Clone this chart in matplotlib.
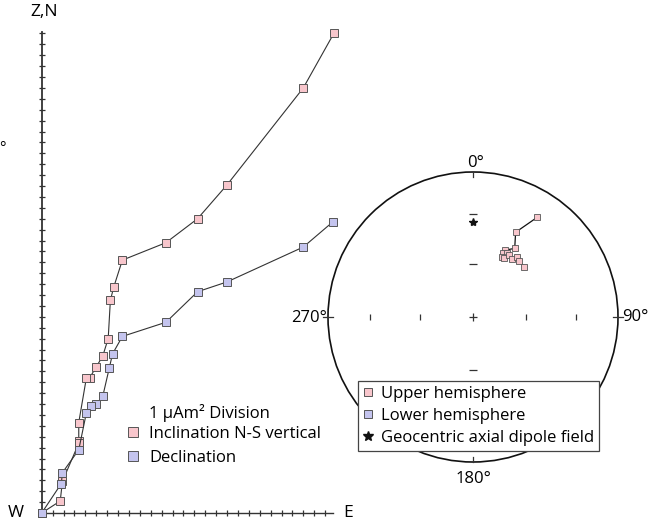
import numpy as np
import matplotlib.pyplot as plt
from matplotlib.lines import Line2D

plt.rcParams['font.family'] = ['Open Sans', 'DejaVu Sans']

# Orthogonal vector plot, in units of 1 uAm^2 (East, North/Up)
incl_east = [26.8, 24.0, 17.0, 14.3, 11.4, 7.4, 6.6, 6.3, 6.1, 5.6, 5.0, 4.4, 4.1,
             3.4, 3.4, 3.4, 1.9, 1.7, 0.0]
incl_up = [44.0, 39.0, 30.1, 27.0, 24.8, 23.2, 20.7, 19.5, 16.0, 14.4, 13.4, 12.4, 12.4,
           8.3, 6.6, 6.4, 2.9, 1.1, 0.0]
decl_east = [26.7, 24.0, 17.0, 14.3, 11.4, 7.4, 6.5, 6.2, 5.6, 5.0, 4.5, 4.1,
             3.4, 1.9, 1.8, 0.0]
decl_north = [26.7, 24.4, 21.2, 20.3, 17.5, 16.2, 14.6, 13.3, 10.7, 10.0, 9.8, 9.2,
              5.8, 3.7, 2.7, 0.0]
east_ticks = np.arange(1, 27)
north_ticks = np.arange(1, 45)

# Directions for the equal-area net (degrees; negative inclination = upper hemisphere)
dec = [32.8, 26.7, 31.3, 25.6, 25.3, 27.8, 25.4, 27.8, 30.1, 33.6, 35.9, 39.6, 45.7]
inc = [-19.3, -34.9, -43.9, -47.6, -49.5, -48.5, -51.9, -51.8, -49.0, -50.1, -47.4,
       -48.5, -49.1]
gad_dec, gad_inc = 0.0, 34.8
net_ticks_inc = [60, 30]

PINK = '#f8c6cc'
BLUE = '#c4c4ee'
EDGE = '#555555'

W, H = 655, 528
fig = plt.figure(figsize=(W / 100, H / 100), dpi=100)

# left panel: pixel origin (41.7, 513), 10.9 px per unit
unit = 10.9
ox, oy = 41.7, 513
ax = fig.add_axes([0, 0, 1, 1])
ax.set_xlim(-ox / unit, (W - ox) / unit)
ax.set_ylim(-(H - oy) / unit, oy / unit)
ax.axis('off')

ax.plot([0, 26.7], [0, 0], color='#333333', lw=1.0, zorder=1)
ax.plot([0, 0], [0, 44.1], color='#333333', lw=1.3, zorder=1)
ax.plot(east_ticks, np.zeros(len(east_ticks)), ls='none', marker='|', ms=4.5,
        mew=0.9, color='#333333')
ax.plot(np.zeros(len(north_ticks)), north_ticks, ls='none', marker='_', ms=5,
        mew=0.9, color='#333333')

ax.plot(incl_east, incl_up, color='#333333', lw=0.8, marker='s', ms=5.5,
        mfc=PINK, mec=EDGE, mew=0.7, zorder=3)
ax.plot(decl_east, decl_north, color='#333333', lw=0.8, marker='s', ms=5.5,
        mfc=BLUE, mec=EDGE, mew=0.7, zorder=3)

ax.text(0.2, 45.2, 'Z,N', fontsize=12.5, ha='center', va='bottom')
ax.text(-2.4, 0, 'W', fontsize=12.5, ha='center', va='center')
ax.text(27.7, 0, 'E', fontsize=12.5, ha='left', va='center')
ax.text(-3.6, 33.4, '°', fontsize=11, ha='center', va='center')

ax.text(9.8, 9.2, '1 µAm² Division', fontsize=12, ha='left', va='center')
h_incl = Line2D([], [], ls='none', marker='s', ms=6.5, mfc=PINK, mec=EDGE, mew=0.7)
h_decl = Line2D([], [], ls='none', marker='s', ms=6.5, mfc=BLUE, mec=EDGE, mew=0.7)
ax.legend([h_incl, h_decl], ['Inclination N-S vertical', 'Declination'],
          loc='upper left', bbox_to_anchor=(126 / W, 1 - 425.5 / H),
          bbox_transform=fig.transFigure, frameon=False, fontsize=12,
          handlelength=0.8, handletextpad=0.6, labelspacing=0.52,
          borderaxespad=0, borderpad=0)

# right panel: equal-area net, centre (473, 317) px, radius 145 px
cx, cy, R = 473, 317, 145
half = 160
net = fig.add_axes([(cx - half) / W, (H - cy - half) / H, 2 * half / W, 2 * half / H])
lim = half / R
net.set_xlim(-lim, lim)
net.set_ylim(-lim, lim)
net.axis('off')
net.patch.set_alpha(0)


def project(d, i):
    r = np.sqrt(2) * np.sin(np.radians(90 - np.abs(i)) / 2)
    return r * np.sin(np.radians(d)), r * np.cos(np.radians(d))


net.add_patch(plt.Circle((0, 0), 1, fill=False, color='#111111', lw=1.2))
t = 5 / R
net.plot([0, 0], [1, 1 - t], color='#333333', lw=0.9)
net.plot([0, 0], [-1, -1 + t], color='#333333', lw=0.9)
net.plot([1 - t, 1 + t], [0, 0], color='#333333', lw=0.9)
net.plot([-1 - t, -1 + t], [0, 0], color='#333333', lw=0.9)
net.plot([0], [0], marker='+', ms=6, mew=0.9, color='#333333')
for ti in net_ticks_inc:
    rr = project(0, ti)[1]
    net.plot([rr, -rr], [0, 0], ls='none', marker='|', ms=4.5, mew=0.9, color='#333333')
    net.plot([0, 0], [rr, -rr], ls='none', marker='_', ms=6, mew=0.9, color='#333333')

px, py = project(np.array(dec), np.array(inc))
net.plot(px, py, color='#111111', lw=0.9, marker='s', ms=4.5, mfc=PINK, mec=EDGE,
         mew=0.6, zorder=3)
gx, gy = project(gad_dec, gad_inc)
net.plot([gx], [gy], marker='*', ms=6, color='#111111', ls='none', zorder=3)

net.text(0.02, 1.01, '0°', fontsize=12, ha='center', va='bottom')
net.text(0, -1.06, '180°', fontsize=12, ha='center', va='top')
net.text(1.03, 0, '90°', fontsize=12, ha='left', va='center')
net.text(-1.01, -0.01, '270°', fontsize=12, ha='right', va='center')

h_up = Line2D([], [], ls='none', marker='s', ms=5.5, mfc=PINK, mec=EDGE, mew=0.7)
h_low = Line2D([], [], ls='none', marker='s', ms=5.5, mfc=BLUE, mec=EDGE, mew=0.7)
h_gad = Line2D([], [], ls='none', marker='*', ms=7, color='#111111')
leg = net.legend([h_up, h_low, h_gad],
                 ['Upper hemisphere', 'Lower hemisphere', 'Geocentric axial dipole field'],
                 loc='upper left', bbox_to_anchor=(358.3 / W, 1 - 380.7 / H),
                 bbox_transform=fig.transFigure, fancybox=False, fontsize=12,
                 handlelength=0.6, handletextpad=0.45, labelspacing=0.36,
                 borderpad=0.3, borderaxespad=0, framealpha=1)
leg.get_frame().set_edgecolor('#444444')
leg.get_frame().set_linewidth(0.9)
leg.set_zorder(5)

fig.savefig('out.png', dpi=100)
